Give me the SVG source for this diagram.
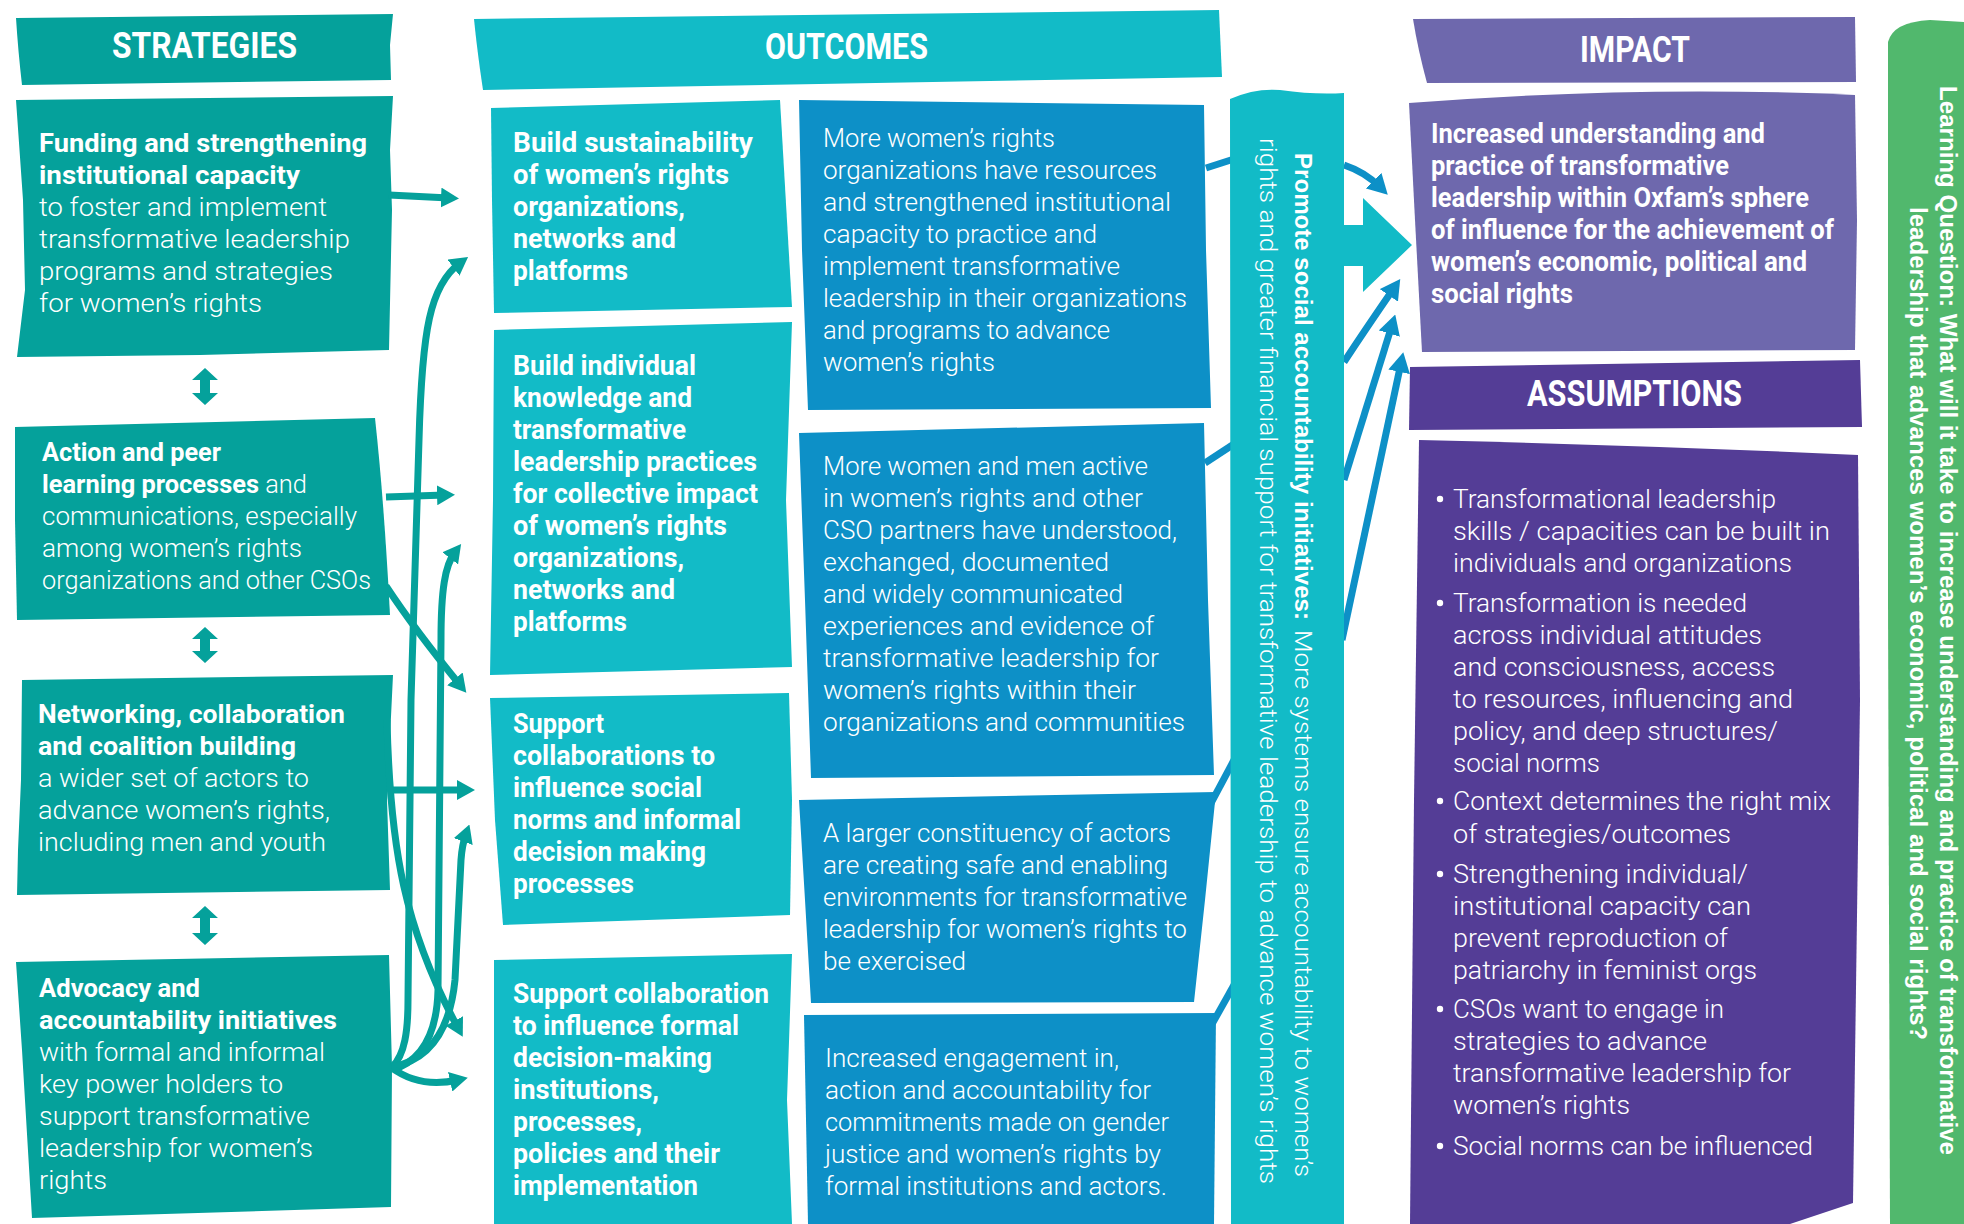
<svg xmlns="http://www.w3.org/2000/svg" width="1964" height="1224" viewBox="0 0 1964 1224">
<style>
text{fill:#fff}
.hdr{font-family:Roboto,"Liberation Sans",sans-serif;font-weight:700;font-size:36px}
.sb{font-family:Roboto,"Liberation Sans",sans-serif;font-weight:700;font-size:25px}
.sl{font-family:Roboto,"Liberation Sans",sans-serif;font-weight:300;font-size:25px}
.ob{font-family:Roboto,"Liberation Sans",sans-serif;font-weight:700;font-size:27px}
.bl{font-family:Roboto,"Liberation Sans",sans-serif;font-weight:300;font-size:25px}
.rb{font-family:"Liberation Sans",Arial,sans-serif;font-weight:700;font-size:24px}
.rl{font-family:Roboto,"Liberation Sans",sans-serif;font-weight:300;font-size:24px}
.teal{fill:#05A19B}
.lt{fill:#12BBC7}
.blue{fill:#0D90C7}
.imp{fill:#6E68AD}
.asm{fill:#543D96}
.grn{fill:#51B86D}
.tc{fill:none;stroke:#05A19B;stroke-width:7}
.bc{fill:none;stroke:#0D90C7;stroke-width:7}
.dot{fill:#fff}
</style>
<defs>
<marker id="th" markerUnits="userSpaceOnUse" viewBox="0 0 18 20" refX="8" refY="10" markerWidth="18" markerHeight="20" orient="auto"><path d="M0,0 L18,10 L0,20 Z" fill="#05A19B"/></marker>
<marker id="bh" markerUnits="userSpaceOnUse" viewBox="0 0 20 22" refX="9" refY="11" markerWidth="20" markerHeight="22" orient="auto"><path d="M0,0 L20,11 L0,22 Z" fill="#0D90C7"/></marker>
</defs>
<rect width="1964" height="1224" fill="#fff"/>

<g id="strategies-header">
<path class="teal" d="M16,18 L393,14 L390,45 L391,80 L22,85 Q18,50 16,18 Z"/>
<text class="hdr" x="112" y="58" textLength="185" lengthAdjust="spacingAndGlyphs">STRATEGIES</text>
</g>

<g id="strategy-1">
<path class="teal" d="M16,100 L393,96 L390,150 L392,210 L389,350 L200,355 L17,357 L25,290 L23,200 Z"/>
<text class="sb" x="39" y="152" textLength="328" lengthAdjust="spacingAndGlyphs">Funding and strengthening</text>
<text class="sb" x="39" y="184" textLength="261" lengthAdjust="spacingAndGlyphs">institutional capacity</text>
<text class="sl" x="39" y="216" textLength="288" lengthAdjust="spacingAndGlyphs">to foster and implement</text>
<text class="sl" x="39" y="248" textLength="311" lengthAdjust="spacingAndGlyphs">transformative leadership</text>
<text class="sl" x="39" y="280" textLength="294" lengthAdjust="spacingAndGlyphs">programs and strategies</text>
<text class="sl" x="39" y="312" textLength="223" lengthAdjust="spacingAndGlyphs">for women’s rights</text>
</g>

<g id="strategy-2">
<path class="teal" d="M15,427 L375,418 Q384,500 390,615 L17,620 L15,520 Z"/>
<text class="sb" x="42" y="461" textLength="179" lengthAdjust="spacingAndGlyphs">Action and peer</text>
<text class="sb" x="42" y="493" textLength="265" lengthAdjust="spacingAndGlyphs">learning processes<tspan class="sl"> and</tspan></text>
<text class="sl" x="42" y="525" textLength="315" lengthAdjust="spacingAndGlyphs">communications, especially</text>
<text class="sl" x="42" y="557" textLength="260" lengthAdjust="spacingAndGlyphs">among  women’s rights</text>
<text class="sl" x="42" y="589" textLength="329" lengthAdjust="spacingAndGlyphs">organizations and other CSOs</text>
</g>

<g id="strategy-3">
<path class="teal" d="M22,680 L393,675 L387,800 L390,890 L17,895 L18,850 L21,780 Z"/>
<text class="sb" x="38" y="723" textLength="307" lengthAdjust="spacingAndGlyphs">Networking, collaboration</text>
<text class="sb" x="38" y="755" textLength="258" lengthAdjust="spacingAndGlyphs">and coalition building</text>
<text class="sl" x="38" y="787" textLength="271" lengthAdjust="spacingAndGlyphs">a wider set of actors to</text>
<text class="sl" x="38" y="819" textLength="292" lengthAdjust="spacingAndGlyphs">advance women’s rights,</text>
<text class="sl" x="38" y="851" textLength="288" lengthAdjust="spacingAndGlyphs">including men and youth</text>
</g>

<g id="strategy-4">
<path class="teal" d="M16,962 L389,955 L392,1067 L391,1207 L32,1218 L22,1050 Z"/>
<text class="sb" x="39" y="997" textLength="161" lengthAdjust="spacingAndGlyphs">Advocacy and</text>
<text class="sb" x="39" y="1029" textLength="298" lengthAdjust="spacingAndGlyphs">accountability initiatives</text>
<text class="sl" x="39" y="1061" textLength="286" lengthAdjust="spacingAndGlyphs">with formal and informal</text>
<text class="sl" x="39" y="1093" textLength="244" lengthAdjust="spacingAndGlyphs">key power holders to</text>
<text class="sl" x="39" y="1125" textLength="271" lengthAdjust="spacingAndGlyphs">support transformative</text>
<text class="sl" x="39" y="1157" textLength="274" lengthAdjust="spacingAndGlyphs">leadership for women’s</text>
<text class="sl" x="39" y="1189" textLength="68" lengthAdjust="spacingAndGlyphs">rights</text>
</g>

<g id="strategy-links">
<path class="teal" d="M205,368 L218,380 L210,380 L210,393 L218,393 L205,405 L192,393 L200,393 L200,380 L192,380 Z"/>
<path class="teal" d="M205,627 L218,639 L210,639 L210,651 L218,651 L205,663 L192,651 L200,651 L200,639 L192,639 Z"/>
<path class="teal" d="M205,906 L218,918 L210,918 L210,933 L218,933 L205,945 L192,933 L200,933 L200,918 L192,918 Z"/>
</g>

<g id="outcomes-header">
<path class="lt" d="M474,19 L1219,10 L1222,77 L483,90 Q477,50 474,19 Z"/>
<text class="hdr" x="765" y="59" textLength="163" lengthAdjust="spacingAndGlyphs">OUTCOMES</text>
</g>

<g id="outcome-1">
<path class="lt" d="M491,108 L780,100 L792,307 L494,313 L492,200 Z"/>
<text class="ob" x="513" y="152" textLength="240" lengthAdjust="spacingAndGlyphs">Build sustainability</text>
<text class="ob" x="513" y="184" textLength="216" lengthAdjust="spacingAndGlyphs">of women’s rights</text>
<text class="ob" x="513" y="216" textLength="172" lengthAdjust="spacingAndGlyphs">organizations,</text>
<text class="ob" x="513" y="248" textLength="163" lengthAdjust="spacingAndGlyphs">networks and</text>
<text class="ob" x="513" y="280" textLength="115" lengthAdjust="spacingAndGlyphs">platforms</text>
</g>

<g id="outcome-2">
<path class="lt" d="M494,330 L792,322 L786,500 L792,667 L490,675 L493,500 Z"/>
<text class="ob" x="513" y="375" textLength="183" lengthAdjust="spacingAndGlyphs">Build individual</text>
<text class="ob" x="513" y="407" textLength="179" lengthAdjust="spacingAndGlyphs">knowledge and</text>
<text class="ob" x="513" y="439" textLength="173" lengthAdjust="spacingAndGlyphs">transformative</text>
<text class="ob" x="513" y="471" textLength="244" lengthAdjust="spacingAndGlyphs">leadership practices</text>
<text class="ob" x="513" y="503" textLength="245" lengthAdjust="spacingAndGlyphs">for collective impact</text>
<text class="ob" x="513" y="535" textLength="214" lengthAdjust="spacingAndGlyphs">of women’s rights</text>
<text class="ob" x="513" y="567" textLength="171" lengthAdjust="spacingAndGlyphs">organizations,</text>
<text class="ob" x="513" y="599" textLength="162" lengthAdjust="spacingAndGlyphs">networks and</text>
<text class="ob" x="513" y="631" textLength="114" lengthAdjust="spacingAndGlyphs">platforms</text>
</g>

<g id="outcome-3">
<path class="lt" d="M490,698 L789,693 L792,800 L790,915 L503,925 L495,820 Z"/>
<text class="ob" x="513" y="733" textLength="91" lengthAdjust="spacingAndGlyphs">Support</text>
<text class="ob" x="513" y="765" textLength="202" lengthAdjust="spacingAndGlyphs">collaborations to</text>
<text class="ob" x="513" y="797" textLength="189" lengthAdjust="spacingAndGlyphs">influence social</text>
<text class="ob" x="513" y="829" textLength="228" lengthAdjust="spacingAndGlyphs">norms and informal</text>
<text class="ob" x="513" y="861" textLength="193" lengthAdjust="spacingAndGlyphs">decision making</text>
<text class="ob" x="513" y="893" textLength="121" lengthAdjust="spacingAndGlyphs">processes</text>
</g>

<g id="outcome-4">
<path class="lt" d="M494,960 L792,954 L787,1100 L792,1224 L494,1224 Z"/>
<text class="ob" x="513" y="1003" textLength="256" lengthAdjust="spacingAndGlyphs">Support collaboration</text>
<text class="ob" x="513" y="1035" textLength="226" lengthAdjust="spacingAndGlyphs">to influence formal</text>
<text class="ob" x="513" y="1067" textLength="199" lengthAdjust="spacingAndGlyphs">decision-making</text>
<text class="ob" x="513" y="1099" textLength="146" lengthAdjust="spacingAndGlyphs">institutions,</text>
<text class="ob" x="513" y="1131" textLength="129" lengthAdjust="spacingAndGlyphs">processes,</text>
<text class="ob" x="513" y="1163" textLength="207" lengthAdjust="spacingAndGlyphs">policies and their</text>
<text class="ob" x="513" y="1195" textLength="185" lengthAdjust="spacingAndGlyphs">implementation</text>
</g>

<g id="connectors">
<path class="bc" d="M1206,168 L1234,159"/>
<path class="bc" d="M1205,463 L1234,444"/>
<path class="bc" d="M1210,805 L1234,760"/>
<path class="bc" d="M1207,1033 L1234,985"/>
<path class="tc" d="M389,195 L449,198" marker-end="url(#th)"/>
<path class="tc" d="M392,1067 C405,1055 408,1030 408,1000 L411,700 L419,440 C422,330 430,285 460,263" marker-end="url(#th)"/>
<path class="tc" d="M386,497 L445,495" marker-end="url(#th)"/>
<path class="tc" d="M392,1070 C425,1060 437,1030 438,990 L441,640 C441,590 445,565 455,552" marker-end="url(#th)"/>
<path class="tc" d="M386,586 Q415,630 460,685" marker-end="url(#th)"/>
<path class="tc" d="M389,790 L465,790" marker-end="url(#th)"/>
<path class="tc" d="M392,1067 C430,1060 450,1030 455,980 L461,860 Q462,845 466,834" marker-end="url(#th)"/>
<path class="tc" d="M387,720 C390,850 405,930 458,1028" marker-end="url(#th)"/>
<path class="tc" d="M392,1068 C415,1085 440,1084 458,1080" marker-end="url(#th)"/>
<path class="bc" d="M1344,165 Q1365,172 1380,187" marker-end="url(#bh)"/>
<path class="bc" d="M1344,362 Q1365,330 1394,288" marker-end="url(#bh)"/>
<path class="bc" d="M1344,480 L1392,325" marker-end="url(#bh)"/>
<path class="bc" d="M1342,640 L1401,363" marker-end="url(#bh)"/>
</g>

<g id="result-1">
<path class="blue" d="M799,100 L1204,105 L1206,250 L1211,408 L808,410 L802,250 Z"/>
<text class="bl" x="823" y="147" textLength="232" lengthAdjust="spacingAndGlyphs">More women’s rights</text>
<text class="bl" x="823" y="179" textLength="334" lengthAdjust="spacingAndGlyphs">organizations have resources</text>
<text class="bl" x="823" y="211" textLength="348" lengthAdjust="spacingAndGlyphs">and strengthened institutional</text>
<text class="bl" x="823" y="243" textLength="274" lengthAdjust="spacingAndGlyphs">capacity to practice and</text>
<text class="bl" x="823" y="275" textLength="297" lengthAdjust="spacingAndGlyphs">implement  transformative</text>
<text class="bl" x="823" y="307" textLength="364" lengthAdjust="spacingAndGlyphs">leadership in their organizations</text>
<text class="bl" x="823" y="339" textLength="287" lengthAdjust="spacingAndGlyphs">and programs to advance</text>
<text class="bl" x="823" y="371" textLength="172" lengthAdjust="spacingAndGlyphs">women’s rights</text>
</g>

<g id="result-2">
<path class="blue" d="M799,433 L1204,423 L1208,600 L1214,775 L811,778 L805,600 Z"/>
<text class="bl" x="823" y="475" textLength="325" lengthAdjust="spacingAndGlyphs">More women and men active</text>
<text class="bl" x="823" y="507" textLength="320" lengthAdjust="spacingAndGlyphs">in women’s rights and other</text>
<text class="bl" x="823" y="539" textLength="354" lengthAdjust="spacingAndGlyphs">CSO partners have understood,</text>
<text class="bl" x="823" y="571" textLength="286" lengthAdjust="spacingAndGlyphs">exchanged, documented</text>
<text class="bl" x="823" y="603" textLength="300" lengthAdjust="spacingAndGlyphs">and widely communicated</text>
<text class="bl" x="823" y="635" textLength="331" lengthAdjust="spacingAndGlyphs">experiences and evidence of</text>
<text class="bl" x="823" y="667" textLength="336" lengthAdjust="spacingAndGlyphs">transformative leadership for</text>
<text class="bl" x="823" y="699" textLength="313" lengthAdjust="spacingAndGlyphs">women’s rights within their</text>
<text class="bl" x="823" y="731" textLength="362" lengthAdjust="spacingAndGlyphs">organizations and communities</text>
</g>

<g id="result-3">
<path class="blue" d="M799,800 L1216,792 L1205,900 L1194,1002 L811,1003 L805,900 Z"/>
<text class="bl" x="823" y="842" textLength="348" lengthAdjust="spacingAndGlyphs">A larger constituency of actors</text>
<text class="bl" x="823" y="874" textLength="345" lengthAdjust="spacingAndGlyphs">are creating safe and enabling</text>
<text class="bl" x="823" y="906" textLength="364" lengthAdjust="spacingAndGlyphs">environments for transformative</text>
<text class="bl" x="823" y="938" textLength="364" lengthAdjust="spacingAndGlyphs">leadership for women’s rights to</text>
<text class="bl" x="823" y="970" textLength="143" lengthAdjust="spacingAndGlyphs">be exercised</text>
</g>

<g id="result-4">
<path class="blue" d="M804,1015 L1216,1013 L1214,1224 L808,1224 Z"/>
<text class="bl" x="825" y="1067" textLength="294" lengthAdjust="spacingAndGlyphs">Increased engagement in,</text>
<text class="bl" x="825" y="1099" textLength="326" lengthAdjust="spacingAndGlyphs">action and accountability for</text>
<text class="bl" x="825" y="1131" textLength="344" lengthAdjust="spacingAndGlyphs">commitments made on gender</text>
<text class="bl" x="825" y="1163" textLength="336" lengthAdjust="spacingAndGlyphs">justice and women’s rights by</text>
<text class="bl" x="825" y="1195" textLength="342" lengthAdjust="spacingAndGlyphs">formal institutions and actors.</text>
</g>

<g id="promote">
<path class="lt" d="M1230,99 Q1255,88 1280,90 Q1315,95 1344,93 L1344,1224 L1231,1224 Z"/>
<path class="lt" d="M1343,225 L1363,225 L1363,198 L1412,245 L1363,292 L1363,266 L1343,266 Z"/>
<g transform="translate(1295,0) rotate(90)">
<text class="rb" x="153" y="0" textLength="467" lengthAdjust="spacingAndGlyphs">Promote social accountability initiatives:</text>
<text class="rl" x="630" y="0" textLength="547" lengthAdjust="spacingAndGlyphs">More systems ensure accountability to women’s</text>
<text class="rl" x="138" y="35" textLength="1046" lengthAdjust="spacingAndGlyphs">rights and greater financial support for transformative leadership to advance women’s rights</text>
</g>
</g>

<g id="impact-header">
<path class="imp" d="M1413,19 L1855,17 L1856,82 L1427,83 Q1418,50 1413,19 Z"/>
<text class="hdr" x="1580" y="62" textLength="110" lengthAdjust="spacingAndGlyphs">IMPACT</text>
</g>

<g id="impact">
<path class="imp" d="M1409,103 Q1640,85 1855,95 L1857,220 L1855,350 L1422,352 L1415,220 Z"/>
<text class="ob" x="1431" y="143" textLength="334" lengthAdjust="spacingAndGlyphs">Increased understanding and</text>
<text class="ob" x="1431" y="175" textLength="298" lengthAdjust="spacingAndGlyphs">practice of transformative</text>
<text class="ob" x="1431" y="207" textLength="378" lengthAdjust="spacingAndGlyphs">leadership within Oxfam’s sphere</text>
<text class="ob" x="1431" y="239" textLength="403" lengthAdjust="spacingAndGlyphs">of influence for the achievement of</text>
<text class="ob" x="1431" y="271" textLength="376" lengthAdjust="spacingAndGlyphs">women’s economic, political and</text>
<text class="ob" x="1431" y="303" textLength="142" lengthAdjust="spacingAndGlyphs">social rights</text>
</g>

<g id="assumptions-header">
<path class="asm" d="M1410,367 L1860,360 L1862,427 L1409,430 Z"/>
<text class="hdr" x="1527" y="406" textLength="215" lengthAdjust="spacingAndGlyphs">ASSUMPTIONS</text>
</g>

<g id="assumptions">
<path class="asm" d="M1419,440 Q1640,445 1858,455 L1860,700 L1853,1203 L1790,1224 L1410,1224 L1414,800 Z"/>
<circle class="dot" cx="1440" cy="499" r="3.2"/>
<text class="bl" x="1453" y="508" textLength="323" lengthAdjust="spacingAndGlyphs">Transformational leadership</text>
<text class="bl" x="1453" y="540" textLength="377" lengthAdjust="spacingAndGlyphs">skills / capacities can be built in</text>
<text class="bl" x="1453" y="572" textLength="339" lengthAdjust="spacingAndGlyphs">individuals and organizations</text>
<circle class="dot" cx="1440" cy="603" r="3.2"/>
<text class="bl" x="1453" y="612" textLength="294" lengthAdjust="spacingAndGlyphs">Transformation is needed</text>
<text class="bl" x="1453" y="644" textLength="309" lengthAdjust="spacingAndGlyphs">across individual attitudes</text>
<text class="bl" x="1453" y="676" textLength="322" lengthAdjust="spacingAndGlyphs">and consciousness, access</text>
<text class="bl" x="1453" y="708" textLength="340" lengthAdjust="spacingAndGlyphs">to resources, influencing and</text>
<text class="bl" x="1453" y="740" textLength="325" lengthAdjust="spacingAndGlyphs">policy, and deep structures/</text>
<text class="bl" x="1453" y="772" textLength="147" lengthAdjust="spacingAndGlyphs">social norms</text>
<circle class="dot" cx="1440" cy="801" r="3.2"/>
<text class="bl" x="1453" y="810" textLength="378" lengthAdjust="spacingAndGlyphs">Context determines the right mix</text>
<text class="bl" x="1453" y="843" textLength="278" lengthAdjust="spacingAndGlyphs">of strategies/outcomes</text>
<circle class="dot" cx="1440" cy="874" r="3.2"/>
<text class="bl" x="1453" y="883" textLength="295" lengthAdjust="spacingAndGlyphs">Strengthening individual/</text>
<text class="bl" x="1453" y="915" textLength="298" lengthAdjust="spacingAndGlyphs">institutional capacity can</text>
<text class="bl" x="1453" y="947" textLength="275" lengthAdjust="spacingAndGlyphs">prevent reproduction of</text>
<text class="bl" x="1453" y="979" textLength="304" lengthAdjust="spacingAndGlyphs">patriarchy in feminist orgs</text>
<circle class="dot" cx="1440" cy="1009" r="3.2"/>
<text class="bl" x="1453" y="1018" textLength="271" lengthAdjust="spacingAndGlyphs">CSOs want to engage in</text>
<text class="bl" x="1453" y="1050" textLength="254" lengthAdjust="spacingAndGlyphs">strategies to advance</text>
<text class="bl" x="1453" y="1082" textLength="338" lengthAdjust="spacingAndGlyphs">transformative leadership for</text>
<text class="bl" x="1453" y="1114" textLength="177" lengthAdjust="spacingAndGlyphs">women’s rights</text>
<circle class="dot" cx="1440" cy="1146" r="3.2"/>
<text class="bl" x="1453" y="1155" textLength="360" lengthAdjust="spacingAndGlyphs">Social norms can be influenced</text>
</g>

<g id="learning-question">
<path class="grn" d="M1888,42 Q1893,22 1930,20 L1964,22 L1964,1224 L1890,1224 L1888,600 Z"/>
<g transform="translate(1940,0) rotate(90)">
<text class="rb" x="86" y="0" textLength="1069" lengthAdjust="spacingAndGlyphs">Learning Question: What will it take to increase understanding and practice of transformative</text>
<text class="rb" x="207" y="30" textLength="833" lengthAdjust="spacingAndGlyphs">leadership that advances women’s economic, political and social rights?</text>
</g>
</g>
</svg>
